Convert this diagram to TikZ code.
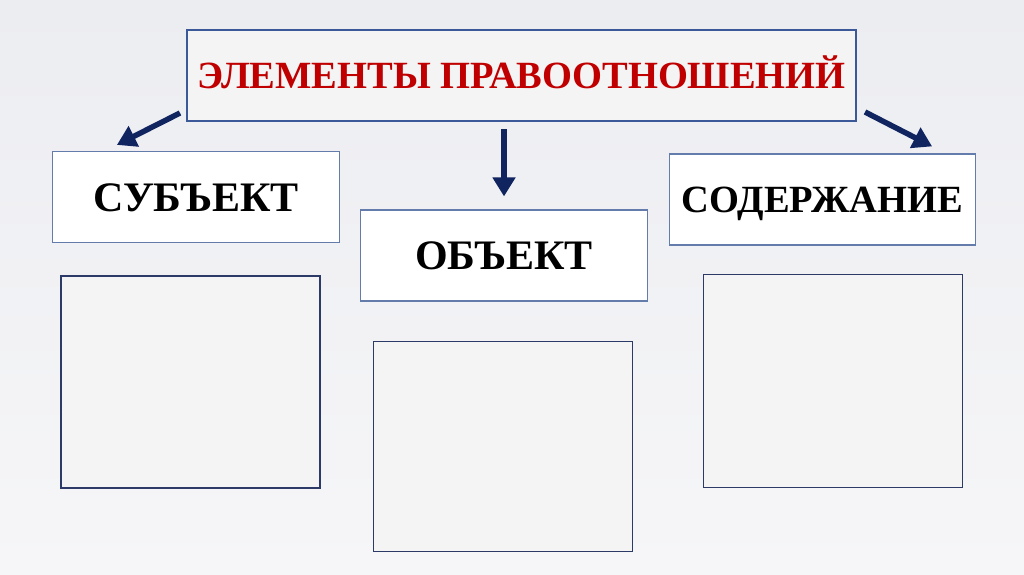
\documentclass[tikz,border=0pt]{standalone}
\usepackage{fontspec}
\setmainfont{Liberation Serif}
\usepackage{tikz}
\usetikzlibrary{
  arrows.meta,
  positioning,
  calc
}
\definecolor{titlered}{RGB}{192,0,0}
\definecolor{frameblue}{RGB}{59,89,152}
\definecolor{labelblue}{RGB}{100,124,172}
\definecolor{arrownavy}{RGB}{16,36,96}
\definecolor{panelnavy}{RGB}{44,58,104}
\definecolor{panelgray}{RGB}{244,244,244}
\definecolor{bgtop}{RGB}{236,237,241}
\definecolor{bgbot}{RGB}{246,246,248}

\begin{document}
\begin{tikzpicture}[x=1pt, y=-1pt,
  titlebox/.style={
    rectangle, draw=frameblue, fill=panelgray, line width=2pt, inner sep=0pt,
    minimum width=669pt, minimum height=91pt, text=titlered,
    font=\fontsize{38.5}{46}\selectfont\bfseries, text height=26pt, text depth=0pt
  },
  labelbox/.style={
    rectangle, draw=labelblue, fill=white, line width=1.2pt, inner sep=0pt,
    minimum height=91pt, font=\fontsize{42}{50}\selectfont\bfseries,
    text height=28pt, text depth=0pt
  },
  panel/.style={
    rectangle, draw=panelnavy, fill=panelgray, line width=1.5pt, inner sep=0pt,
    minimum width=259pt
  },
  arr/.style={-{Triangle[length=19pt, width=22pt]}, line width=5.5pt, arrownavy}
]
  % background
  \fill[top color=bgtop, bottom color=bgbot] (0,0) rectangle (1024,574);

  \node[titlebox] (title) at (521.5,75.5) {ЭЛЕМЕНТЫ ПРАВООТНОШЕНИЙ};

  \node[labelbox, minimum width=287pt] (subj) at (196,197)   {СУБЪЕКТ};
  \node[labelbox, minimum width=287pt] (obj)  at (504,255.5) {ОБЪЕКТ};
  \node[labelbox, minimum width=306pt, font=\fontsize{38.5}{46}\selectfont\bfseries,
        text height=26pt] (cont) at (822.5,199.5) {СОДЕРЖАНИЕ};

  \node[panel, minimum height=212pt, below=32pt of subj, xshift=-5.5pt] (subjpanel) {};
  \node[panel, minimum height=210pt, below=39pt of obj,  xshift=-1pt]   (objpanel)  {};
  \node[panel, minimum height=213pt, below=28pt of cont, xshift=10.5pt] (contpanel) {};

  \draw[arr] ([xshift=-6pt, yshift=9pt]title.south west) -- ([xshift=65pt, yshift=6pt]subj.north west);
  \draw[arr] ($(title.south -| obj.north)+(0,7)$) -- ([yshift=13pt]obj.north);
  \draw[arr] ([xshift=8pt, yshift=10pt]title.south east) -- ([xshift=-44pt, yshift=7pt]cont.north east);
\end{tikzpicture}
\end{document}
